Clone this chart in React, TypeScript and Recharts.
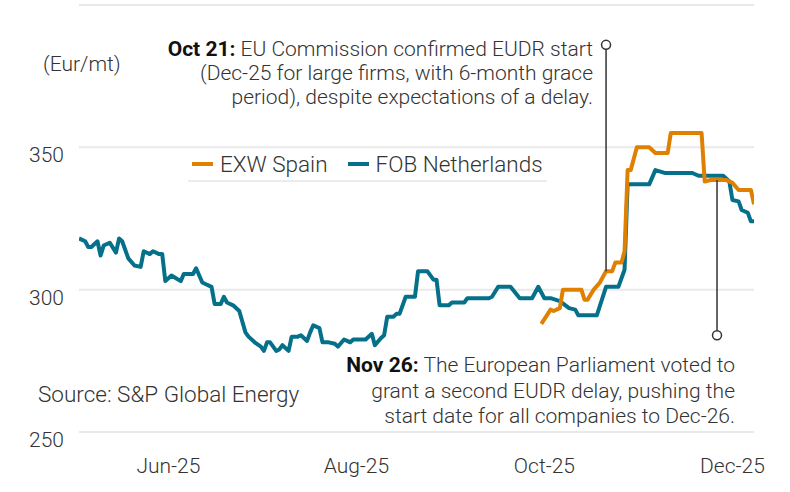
import { LineChart, Line, XAxis, YAxis, CartesianGrid, ReferenceLine, ReferenceDot, Legend } from "recharts";

// FOB Netherlands (Eur/mt)
const fobDates = [
  "2025-05-03", "2025-05-05", "2025-05-06", "2025-05-07", "2025-05-09", "2025-05-10", "2025-05-11",
  "2025-05-13", "2025-05-15", "2025-05-16", "2025-05-17", "2025-05-19", "2025-05-21", "2025-05-23",
  "2025-05-24", "2025-05-26", "2025-05-27", "2025-05-29", "2025-05-30", "2025-05-31", "2025-06-02",
  "2025-06-05", "2025-06-06", "2025-06-09", "2025-06-10", "2025-06-12", "2025-06-13", "2025-06-15",
  "2025-06-16", "2025-06-18", "2025-06-19", "2025-06-20", "2025-06-22", "2025-06-24", "2025-06-26",
  "2025-06-27", "2025-06-29", "2025-07-01", "2025-07-02", "2025-07-03", "2025-07-04", "2025-07-06",
  "2025-07-07", "2025-07-08", "2025-07-10", "2025-07-11", "2025-07-13", "2025-07-14", "2025-07-16",
  "2025-07-17", "2025-07-18", "2025-07-20", "2025-07-21", "2025-07-23", "2025-07-25", "2025-07-26",
  "2025-07-28", "2025-07-29", "2025-07-30", "2025-07-31", "2025-08-04", "2025-08-06", "2025-08-07",
  "2025-08-09", "2025-08-10", "2025-08-11", "2025-08-13", "2025-08-14", "2025-08-15", "2025-08-17",
  "2025-08-20", "2025-08-21", "2025-08-24", "2025-08-26", "2025-08-27", "2025-08-28", "2025-08-31",
  "2025-09-01", "2025-09-05", "2025-09-06", "2025-09-13", "2025-09-14", "2025-09-16", "2025-09-20",
  "2025-09-23", "2025-09-27", "2025-09-29", "2025-10-01", "2025-10-03", "2025-10-06", "2025-10-09",
  "2025-10-11", "2025-10-12", "2025-10-18", "2025-10-21", "2025-10-25", "2025-10-27", "2025-10-28",
  "2025-11-04", "2025-11-06", "2025-11-09", "2025-11-18", "2025-11-20", "2025-11-28", "2025-11-30",
  "2025-12-01", "2025-12-03", "2025-12-04", "2025-12-06", "2025-12-07", "2025-12-08",
];
const fobValues = [
  318, 317, 315, 315, 317, 312, 315.5,
  316.5, 313, 318, 317, 311, 308.5, 308,
  313.5, 312.5, 313.5, 312.5, 312.5, 303, 305,
  303, 305.5, 305.5, 307.5, 302.5, 302, 301,
  295, 295, 297.5, 295.5, 294.5, 292.5, 285,
  283.5, 281.5, 280, 278.5, 281.5, 281.5, 278.5,
  279, 280.5, 278.5, 283.5, 283.5, 284, 282,
  285, 287.5, 286.5, 281.5, 281.5, 281, 280,
  282.5, 282, 281.5, 282.5, 282.5, 284.5, 280.5,
  283, 284, 290.5, 290.5, 291.5, 291.5, 297.5,
  297.5, 306.5, 306.5, 303.5, 303.5, 294.5, 294.5,
  295.5, 295.5, 297, 297, 297.5, 301, 301,
  297, 297, 301, 297, 297, 296, 293.5,
  293, 291, 291, 301, 301, 307, 337,
  337, 342, 341, 341, 340, 340, 338,
  331.5, 331, 328, 327, 324, 324,
];

// EXW Spain (Eur/mt)
const spainDates = [
  "2025-09-30", "2025-10-03", "2025-10-04", "2025-10-06", "2025-10-07", "2025-10-13", "2025-10-14",
  "2025-10-15", "2025-10-17", "2025-10-19", "2025-10-21", "2025-10-23", "2025-10-24", "2025-10-26",
  "2025-10-27", "2025-10-28", "2025-10-29", "2025-10-31", "2025-11-04", "2025-11-06", "2025-11-10",
  "2025-11-11", "2025-11-21", "2025-11-22", "2025-11-24", "2025-11-29", "2025-12-01", "2025-12-03",
  "2025-12-07", "2025-12-08",
];
const spainValues = [
  288, 293, 292.5, 293.5, 300, 300, 296.5,
  296.5, 300, 302.5, 306.5, 306.5, 309.5, 309.5,
  313.5, 342, 342, 350, 350, 348, 348,
  355, 355, 338, 338.5, 338.5, 337.5, 335,
  335, 330,
];

const xTickDates = ["2025-06-01", "2025-08-01", "2025-10-01", "2025-12-01"];
const xTickLabels = ["Jun-25", "Aug-25", "Oct-25", "Dec-25"];
const yTicks = [250, 300, 350];

const ORANGE = "#E08000";
const TEAL = "#05708A";
const FONT = "Roboto, 'Liberation Sans', sans-serif";

const ts = (s: string) => Date.parse(s + "T00:00:00Z");

const fobData = fobDates.map((d, i) => ({ t: ts(d), v: fobValues[i] }));
const spainData = spainDates.map((d, i) => ({ t: ts(d), v: spainValues[i] }));

function XTick(props: any) {
  const i = xTickDates.findIndex((d) => ts(d) === props.payload.value);
  return (
    <text x={props.x} y={473} textAnchor="middle" fontSize={21} fill="#333" fontFamily={FONT} fontWeight={300}>
      {xTickLabels[i]}
    </text>
  );
}

function YTick(props: any) {
  return (
    <text x={64} y={props.y + 15} textAnchor="end" fontSize={21} fill="#333" fontFamily={FONT} fontWeight={300}>
      {props.payload.value}
    </text>
  );
}

function LegendBox() {
  const item = (color: string, label: string, gap: number) => (
    <span style={{ display: "inline-flex", alignItems: "center", marginRight: gap, whiteSpace: "nowrap", flexShrink: 0 }}>
      <span style={{ width: 21, height: 4, background: color, marginRight: 7, display: "inline-block" }} />
      {label}
    </span>
  );
  return (
    <div
      style={{
        fontFamily: FONT,
        fontSize: 22.5,
        fontWeight: 300,
        color: "#333",
        borderBottom: "2px solid #ececec",
        height: 34,
        width: 359,
        display: "flex",
        alignItems: "center",
        paddingLeft: 4,
        boxSizing: "border-box",
        whiteSpace: "nowrap",
      }}
    >
      {item(ORANGE, "EXW Spain", 20)}
      {item(TEAL, "FOB Netherlands", 0)}
    </div>
  );
}

export default function App() {
  return (
    <div style={{ position: "absolute", left: 0, top: 0, width: 790, height: 492, background: "#fff" }}>
      <LineChart width={790} height={492} margin={{ top: 5, right: 36, bottom: 0, left: 0 }}>
        <CartesianGrid vertical={false} stroke="#e9e9e9" strokeWidth={2} />
        <XAxis
          dataKey="t"
          type="number"
          domain={[ts("2025-05-03"), ts("2025-12-08")]}
          ticks={xTickDates.map(ts)}
          tick={<XTick />}
          axisLine={false}
          tickLine={false}
          height={60}
          allowDataOverflow
        />
        <YAxis
          domain={[250, 400]}
          ticks={yTicks}
          tick={<YTick />}
          axisLine={false}
          tickLine={false}
          width={79}
          allowDataOverflow
        />
        <ReferenceLine
          segment={[{ x: ts("2025-05-03"), y: 400 }, { x: ts("2025-08-14"), y: 400 }]}
          stroke="#e9e9e9"
          strokeWidth={2}
        />
        <Legend
          verticalAlign="middle"
          align="center"
          content={<LegendBox />}
          wrapperStyle={{ position: "absolute", top: 148, left: 188, width: 359 }}
        />
        <Line
          data={fobData}
          dataKey="v"
          name="FOB Netherlands"
          type="linear"
          stroke={TEAL}
          strokeWidth={4}
          strokeLinejoin="round"
          dot={false}
          isAnimationActive={false}
        />
        <Line
          data={spainData}
          dataKey="v"
          name="EXW Spain"
          type="linear"
          stroke={ORANGE}
          strokeWidth={4}
          strokeLinejoin="round"
          dot={false}
          isAnimationActive={false}
        />
        <ReferenceLine
          segment={[{ x: ts("2025-10-21"), y: 306.5 }, { x: ts("2025-10-21"), y: 386 }]}
          stroke="#333"
          strokeWidth={1.5}
        />
        <ReferenceDot x={ts("2025-10-21")} y={386} r={4.5} fill="#fff" stroke="#333" strokeWidth={1.5} />
        <ReferenceLine
          segment={[{ x: ts("2025-11-26"), y: 338.5 }, { x: ts("2025-11-26"), y: 284 }]}
          stroke="#333"
          strokeWidth={1.5}
        />
        <ReferenceDot x={ts("2025-11-26")} y={284} r={4.5} fill="#fff" stroke="#333" strokeWidth={1.5} />
      </LineChart>
      <svg
        width={790}
        height={492}
        style={{ position: "absolute", left: 0, top: 0, pointerEvents: "none" }}
        fontFamily={FONT}
        fontWeight={300}
        fill="#333"
      >
        <text x={43} y={71} fontSize={21}>(Eur/mt)</text>
        <g fontSize={21} textAnchor="end">
          <text x={593} y={56}>
            <tspan fontWeight={700} fill="#111">Oct 21:</tspan> EU Commission confirmed EUDR start
          </text>
          <text x={593} y={80}>(Dec-25 for large firms, with 6-month grace</text>
          <text x={593} y={104}>period), despite expectations of a delay.</text>
          <text x={735} y={372}>
            <tspan fontWeight={700} fill="#111">Nov 26:</tspan> The European Parliament voted to
          </text>
          <text x={735} y={398}>grant a second EUDR delay, pushing the</text>
          <text x={735} y={423}>start date for all companies to Dec-26.</text>
        </g>
        <text x={38} y={402} fontSize={22.5}>Source: S&amp;P Global Energy</text>
      </svg>
    </div>
  );
}
